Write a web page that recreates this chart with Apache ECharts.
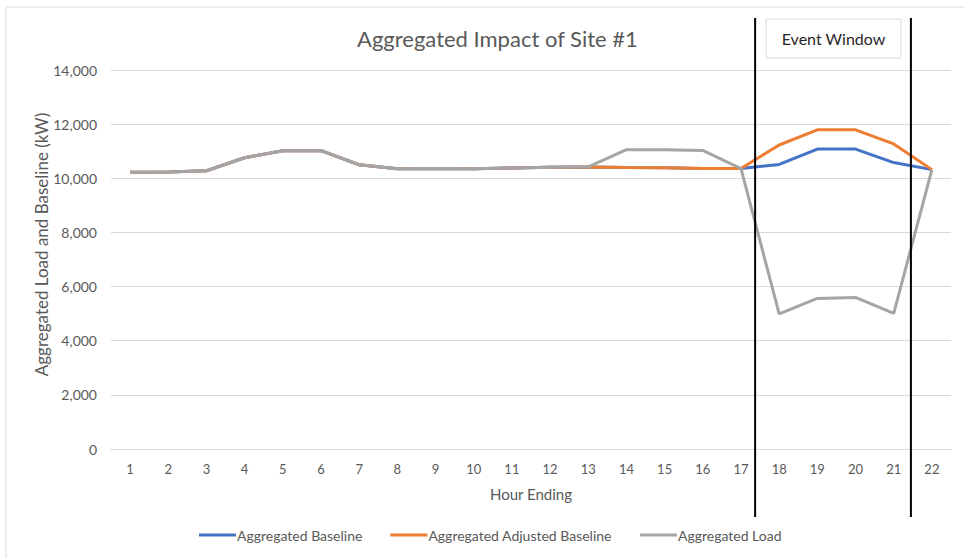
<!DOCTYPE html>
<html>
<head>
<meta charset="utf-8">
<script src="https://cdn.jsdelivr.net/npm/echarts@6/dist/echarts.min.js"></script>
<style>
html,body{margin:0;padding:0;background:#fff;}
#chart{width:964px;height:558px;}
</style>
</head>
<body>
<div id="chart"></div>
<script>
var hours = ['1','2','3','4','5','6','7','8','9','10','11','12','13','14','15','16','17','18','19','20','21','22'];
var baseline = [10220,10230,10280,10760,11020,11020,10500,10350,10360,10350,10380,10410,10420,10400,10390,10360,10360,10510,11080,11080,10580,10320];
var adjustedBaseline = [10220,10230,10280,10760,11020,11020,10500,10350,10360,10350,10380,10410,10420,10400,10390,10360,10360,11230,11790,11790,11270,10320];
var load = [10220,10230,10280,10760,11020,11020,10500,10350,10360,10350,10380,10410,10420,11055,11050,11030,10360,4990,5560,5600,5010,10320];
var yTicks = [0,2000,4000,6000,8000,10000,12000,14000];
var eventWindow = [17.37, 21.45]; // positions in hour units of the two event lines

var FONT = 'Lato';
var chart = echarts.init(document.getElementById('chart'), null, {renderer: 'svg'});
var option = {
  animation: false,
  backgroundColor: '#fff',
  textStyle: {fontFamily: FONT},
  title: {
    text: 'Aggregated Impact of Site #1',
    left: 352, top: 22,
    textStyle: {fontFamily: FONT, fontSize: 22, fontWeight: 'normal', color: '#595959'}
  },
  grid: {left: 111, right: 13, top: 70, bottom: 109, containLabel: false},
  legend: {
    bottom: 11, left: 194,
    itemWidth: 37, itemHeight: 3, itemGap: 28,
    icon: 'rect',
    textStyle: {fontFamily: FONT, fontSize: 14, color: '#595959', padding: [0,0,0,-4]},
    data: ['Aggregated Baseline','Aggregated Adjusted Baseline','Aggregated Load']
  },
  xAxis: {
    type: 'category',
    data: hours,
    boundaryGap: true,
    name: 'Hour Ending',
    nameLocation: 'middle',
    nameGap: 37,
    nameMoveOverlap: false,
    nameTextStyle: {fontFamily: FONT, fontSize: 15, color: '#595959'},
    axisLine: {show: true, lineStyle: {color: '#d9d9d9', width: 1}},
    axisTick: {show: false},
    axisLabel: {fontFamily: FONT, fontSize: 13, color: '#595959', margin: 13}
  },
  yAxis: {
    type: 'value',
    min: 0, max: 14000, interval: 2000,
    name: 'Aggregated Load and Baseline (kW)',
    nameLocation: 'middle',
    nameRotate: 90,
    nameGap: 61,
    nameMoveOverlap: false,
    nameTextStyle: {fontFamily: FONT, fontSize: 17, color: '#595959', padding: [0,0,0,30]},
    axisLine: {show: false},
    axisTick: {show: false},
    splitLine: {lineStyle: {color: '#d9d9d9', width: 1}},
    axisLabel: {
      fontFamily: FONT, fontSize: 14, color: '#595959', margin: 14,
      formatter: function (v) { return yTicks.indexOf(v) >= 0 ? v.toLocaleString('en-US') : ''; }
    }
  },
  series: [
    {name: 'Aggregated Baseline', type: 'line', data: baseline, showSymbol: false, symbol: 'none',
     lineStyle: {color: '#4472C4', width: 3}, itemStyle: {color: '#4472C4'}, z: 2},
    {name: 'Aggregated Adjusted Baseline', type: 'line', data: adjustedBaseline, showSymbol: false, symbol: 'none',
     lineStyle: {color: '#ED7D31', width: 3}, itemStyle: {color: '#ED7D31'}, z: 3},
    {name: 'Aggregated Load', type: 'line', data: load, showSymbol: false, symbol: 'none',
     lineStyle: {color: '#A5A5A5', width: 3}, itemStyle: {color: '#A5A5A5'}, z: 4}
  ]
};
chart.setOption(option);

function hourToPx(h) {
  var i = Math.floor(h) - 1;
  var f = h - Math.floor(h);
  var p0 = chart.convertToPixel({xAxisIndex: 0}, i);
  var p1 = chart.convertToPixel({xAxisIndex: 0}, i + 1);
  return p0 + (p1 - p0) * f;
}
var x1 = hourToPx(eventWindow[0]);
var x2 = hourToPx(eventWindow[1]);
var boxL = x1 + 11, boxR = x2 - 10;
chart.setOption({
  graphic: [
    {type: 'rect', shape: {x: 6, y: 7, width: 980, height: 580}, style: {fill: 'none', stroke: '#d9d9d9', lineWidth: 1}, silent: true, z: -10},
    {type: 'line', shape: {x1: x1, y1: 18, x2: x1, y2: 517}, style: {stroke: '#000', lineWidth: 2}, z: 50},
    {type: 'line', shape: {x1: x2, y1: 18, x2: x2, y2: 517}, style: {stroke: '#000', lineWidth: 2}, z: 50},
    {type: 'rect', shape: {x: boxL, y: 19, width: boxR - boxL, height: 39}, style: {fill: '#fff', stroke: '#d9d9d9', lineWidth: 1}, z: 50},
    {type: 'text', x: (boxL + boxR) / 2, y: 38.5, style: {text: 'Event Window', fontFamily: FONT, fontSize: 16, fill: '#262626', textAlign: 'center', textVerticalAlign: 'middle'}, z: 51}
  ]
});
</script>
</body>
</html>
